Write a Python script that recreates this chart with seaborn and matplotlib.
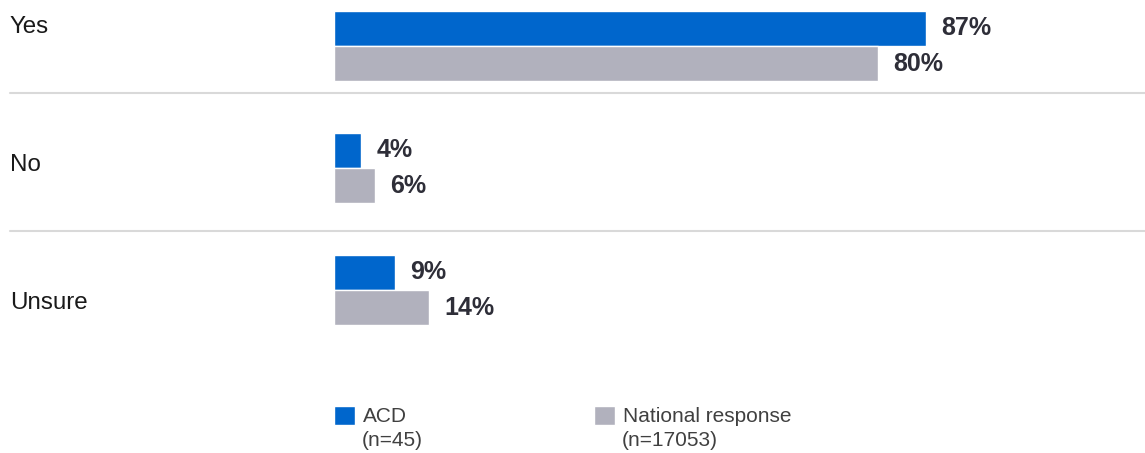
import matplotlib
matplotlib.use("Agg")
import matplotlib.pyplot as plt
import matplotlib.font_manager as fm
import seaborn as sns
import pandas as pd
from matplotlib.lines import Line2D

categories = ["Yes", "No", "Unsure"]
groups = ["ACD", "National response"]
group_n = ["(n=45)", "(n=17053)"]
acd_values = [87, 4, 9]
national_values = [80, 6, 14]

BLUE = "#0066CC"
GRAY = "#B1B1BD"

df = pd.DataFrame({
    "category": categories * 2,
    "group": [groups[0]] * 3 + [groups[1]] * 3,
    "value": acd_values + national_values,
})

# avoid matplotlib picking the Narrow variant of Liberation Sans
fm.fontManager.ttflist = [f for f in fm.fontManager.ttflist
                          if "narrow" not in f.fname.lower()]
try:
    fm.fontManager._findfont_cached.cache_clear()
except Exception:
    pass

sns.set_theme(style="white")
plt.rcParams["font.family"] = ["Liberation Sans", "DejaVu Sans"]

W, H = 1145, 453
fig = plt.figure(figsize=(W / 100, H / 100), dpi=100)
ax = fig.add_axes([334 / W, 0, (W - 334) / W, 1])

sns.barplot(data=df, y="category", x="value", hue="group", order=categories,
            hue_order=groups, palette=[BLUE, GRAY], orient="h", width=0.574,
            ax=ax, legend=True, saturation=1)

handles, labels = ax.get_legend_handles_labels()
if ax.get_legend() is not None:
    ax.get_legend().remove()

for cont in ax.containers:
    ax.bar_label(cont, fmt="%d%%", padding=11, fontsize=18, fontweight="bold",
                 color="#2E2E38")

ax.set_xlim(0, (W - 334) / 6.80)
ax.set_ylim((H - 46) / 122, -46 / 122)
ax.set_axis_off()

# category labels and separators
for i, c in enumerate(categories):
    fig.text(10 / W, 1 - (27 + 138 * i) / H, c, fontsize=17.4, color="#1A1A1A",
             va="center", ha="left")
for i in range(len(categories) - 1):
    yy = 1 - (93 + 138 * i) / H
    fig.add_artist(Line2D([10 / W, 1], [yy, yy], color="#D9D9D9", lw=1.5,
                          transform=fig.transFigure))

# legend
leg_x = [334, 594]
for h, lab, n, x in zip(handles, labels, group_n, leg_x):
    leg = fig.legend([h], [lab], loc="upper left",
                     bbox_to_anchor=(x / W, 1 - 406 / H), frameon=False,
                     fontsize=15, borderpad=0, borderaxespad=0,
                     handlelength=1.0, handleheight=1.0, handletextpad=0.4,
                     labelcolor="#404040")
    fig.text((x + 28) / W, 1 - 440 / H, n, fontsize=15, color="#404040",
             va="center", ha="left")

fig.savefig("out.png", dpi=100)
